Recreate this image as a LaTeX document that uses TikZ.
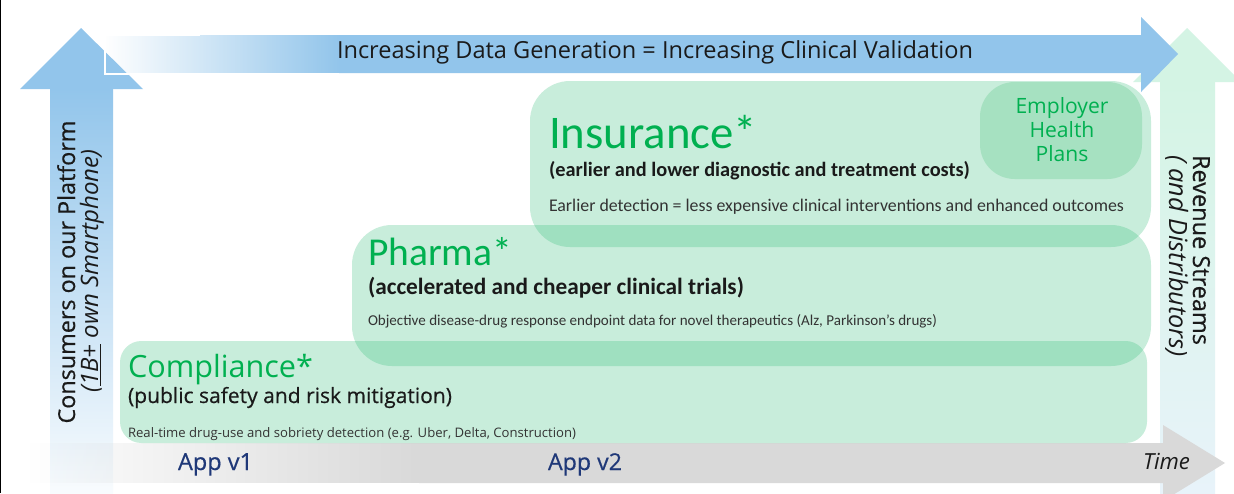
\documentclass[tikz,border=0pt]{standalone}
\usepackage{fontspec}
\setmainfont{Open Sans}
\newfontfamily\calfont{Carlito}
\newfontfamily\osmed[FakeBold=0.5]{Open Sans}
\usetikzlibrary{fadings}
\newsavebox\fitbox
% set font size so that #2 is #1 px wide (1px = 0.75pt)
\newcommand\fitto[2]{\sbox\fitbox{\fontsize{10pt}{12pt}\selectfont #2}%
  \pgfmathsetmacro\myfs{10*#1*0.75/\the\wd\fitbox}%
  \pgfmathsetmacro\myls{1.2*\myfs}%
  \fontsize{\myfs pt}{\myls pt}\selectfont #2}
\newcommand\fitsizels[3]{\sbox\fitbox{\fontsize{10pt}{12pt}\selectfont #2}%
  \pgfmathsetmacro\myfs{10*#1*0.75/\the\wd\fitbox}%
  \fontsize{\myfs pt}{#3}\selectfont}
\definecolor{lblue}{RGB}{146,197,235}
\definecolor{mint}{RGB}{212,244,228}
\definecolor{mintblue}{RGB}{232,243,250}
\definecolor{agray}{RGB}{217,217,217}
\definecolor{boxgreen}{RGB}{38,186,112}
\definecolor{empgreen}{RGB}{166,225,193}
\definecolor{titlegreen}{RGB}{0,176,80}
\definecolor{navy}{RGB}{31,56,120}
\definecolor{txt}{RGB}{26,26,26}
\definecolor{dtxt}{RGB}{51,51,51}
\begin{document}
\begin{tikzpicture}[x=0.75pt,y=-0.75pt,
  lbl/.style={inner sep=0pt, outer sep=0pt},
  gtitle/.style={lbl, anchor=base west, text=titlegreen},
  subl/.style={lbl, anchor=base west, text=txt},
  detl/.style={lbl, anchor=base west, text=dtxt},
  greenbox/.style={fill=boxgreen, fill opacity=0.25},
  applbl/.style={lbl, anchor=base west, text=navy, font=\osmed}]
\useasboundingbox (0,0) rectangle (1234,493);
\fill[white] (0,0) rectangle (1234,493);
\draw[black, line width=1pt] (0.7,0) -- (0.7,493);

% right (revenue) arrow
\fill[mint] (1133,82) -- (1187,28) -- (1241,82) -- cycle;
\shade[top color=mint, bottom color=mintblue] (1160,81.5) rectangle (1215,493);

% left (consumers) arrow
\fill[lblue] (20,89) -- (81,28) -- (143,89) -- cycle;
\shade[top color=lblue, bottom color=white!94!lblue] (50,88.5) rectangle (113,493);

% top arrow
\fill[lblue] (339,35) -- (1141,35) -- (1141,17) -- (1178,54) -- (1141,92) -- (1141,73) -- (339,73) -- cycle;
\fill[lblue, path fading=west] (105,35) rectangle (340,73);
\draw[white, line width=0.8pt] (200,35) -- (105,35) -- (105,74) -- (200,74);

% bottom arrow
\fill[agray] (419,443) -- (1163,443) -- (1163,425) -- (1225,463) -- (1163,501) -- (1163,483) -- (419,483) -- cycle;
\fill[agray, path fading=west] (30,443) rectangle (420,483);

% boxes
\path[greenbox, rounded corners=16pt] (120,341) rectangle (1147,443);
\path[greenbox, rounded corners=30pt] (352,225) rectangle (1151,366);
\path[greenbox, rounded corners=30pt] (530,81) rectangle (1151,247);
\path[fill=empgreen, rounded corners=26pt] (980,82) rectangle (1142,179);

% title
\node[lbl, anchor=base, text=txt] (title) at (655,58) {\fitto{636}{Increasing Data Generation = Increasing Clinical Validation}};

% insurance
\node[gtitle, font=\calfont] (ins) at (549,148) {\fitto{208}{Insurance*}};
\node[subl, font=\calfont\bfseries] (inssub) at (549,176) {\fitto{421}{(earlier and lower diagnostic and treatment costs)}};
\node[detl, font=\calfont] (insdet) at (549,211) {\fitto{575}{Earlier detection = less expensive clinical interventions and enhanced outcomes}};
\node[lbl, align=center, text=titlegreen, font={\fitsizels{93}{Employer}{18pt}}] (emp) at (1062,130) {Employer\\Health\\Plans};

% pharma
\node[gtitle, font=\calfont] (pha) at (368,265) {\fitto{144}{Pharma*}};
\node[subl, font=\calfont\bfseries] (phasub) at (368,294) {\fitto{376}{(accelerated and cheaper clinical trials)}};
\node[detl, font=\calfont] (phadet) at (368,325) {\fitto{569}{Objective disease-drug response endpoint data for novel therapeutics (Alz, Parkinson’s drugs)}};

% compliance
\node[gtitle] (com) at (128,377) {\fitto{185}{Compliance*}};
\node[subl, font=\osmed] (comsub) at (128,403) {\fitto{324}{(public safety and risk mitigation)}};
\node[detl] (comdet) at (128,437) {\fitto{448}{Real-time drug-use and sobriety detection (e.g. Uber, Delta, Construction)}};

% bottom labels
\node[applbl] (app1) at (178,470) {\fitto{75}{App v1}};
\node[applbl] (app2) at (548,470) {\fitto{74}{App v2}};
\node[lbl, anchor=base west, text=txt, font=\itshape] (time) at (1143,469) {\fitto{47}{Time}};

% vertical labels
\node[lbl, anchor=base, rotate=90, text=txt, font=\osmed] (cons) at (75,272) {\fitto{303}{Consumers on our Platform}};
\node[lbl, anchor=base, rotate=90, text=txt, font=\itshape] (own) at (98,271) {\fitto{243}{(\underline{1B+} own Smartphone)}};
\node[lbl, anchor=base, rotate=-90, text=txt, font=\osmed] (rev) at (1193,250) {\fitto{190}{Revenue Streams}};
\node[lbl, anchor=base, rotate=-90, text=txt, font=\itshape] (dist) at (1169,256) {\fitto{202}{( and Distributors)}};
\end{tikzpicture}
\end{document}
